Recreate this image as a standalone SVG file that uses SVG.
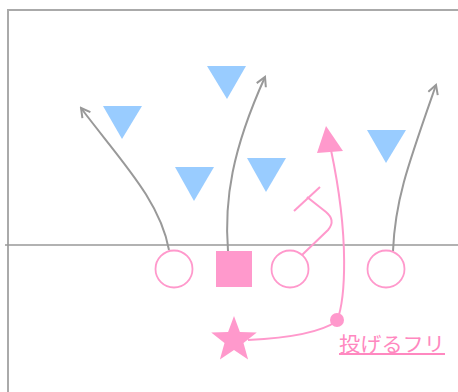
<svg xmlns="http://www.w3.org/2000/svg" width="458" height="392" viewBox="0 0 458 392">
<style>
.frame{stroke:#aaaaaa;stroke-width:2;fill:none}
.los{stroke:#999999;stroke-width:1.5;fill:none}
.def{fill:#99ccff}
.off{fill:#ffffff;stroke:#ff99cc;stroke-width:1.8}
.pk{fill:#ff99cc}
.route{fill:none;stroke:#999999;stroke-width:2}
.proute{fill:none;stroke:#ff99cc;stroke-width:2}
.lbl{font-family:"Noto Sans CJK JP","Noto Sans CJK SC",sans-serif;font-size:20px;fill:#ff88c0;text-decoration:underline}
</style>
<defs>
<marker id="ga" viewBox="0 0 12 12" refX="10" refY="6" markerWidth="12" markerHeight="12" markerUnits="userSpaceOnUse" orient="auto">
<path d="M1,1 L10,6 L1,11" fill="none" stroke="#999999" stroke-width="2"/>
</marker>
</defs>
<rect width="458" height="392" fill="#ffffff"/>
<g id="field">
<path class="frame" d="M8,392 V10 H458"/>
<line class="los" x1="5" y1="245" x2="458" y2="245"/>
</g>
<g id="connectors">
<path class="route" d="M169,250 C160,200 120,160 81,108" marker-end="url(#ga)"/>
<path class="route" d="M228,251 C224,200 232,150 265,77" marker-end="url(#ga)"/>
<path class="route" d="M393,251 C395,200 408,165 436,85" marker-end="url(#ga)"/>
<path class="proute" d="M302,255 L328,230 C334,223 332,217 326,212 L307,197"/>
<line class="proute" x1="294" y1="211" x2="320" y2="187"/>
<path class="proute" d="M248,340 C290,338 320,333 337,321 C345,300 350,240 331,150"/>
<polygon class="pk" points="326,126 317,153 343,151"/>
<circle class="pk" cx="337" cy="320" r="7"/>
</g>
<g id="d1"><polygon class="def" points="103,106 142,106 122,139"/></g>
<g id="d2"><polygon class="def" points="207,66 246,66 227,99"/></g>
<g id="d3"><polygon class="def" points="175,167 214,167 194,201"/></g>
<g id="d4"><polygon class="def" points="247,158 286,158 266,192"/></g>
<g id="d5"><polygon class="def" points="367,130 406,130 386,163"/></g>
<g id="o1"><circle class="off" cx="174" cy="269" r="18.5"/></g>
<g id="center"><rect class="pk" x="216" y="251" width="36" height="36"/></g>
<g id="o2"><circle class="off" cx="290" cy="269" r="18.5"/></g>
<g id="o3"><circle class="off" cx="386" cy="269" r="18.5"/></g>
<g id="qb"><polygon class="pk" points="234,316 239.9,331.9 256.8,332.6 243.5,343.1 248.1,359.4 234,350 219.9,359.4 224.5,343.1 211.2,332.6 228.1,331.9"/></g>
<g id="label"><text class="lbl" x="339" y="352" textLength="106" lengthAdjust="spacingAndGlyphs">投げるフリ</text></g>
</svg>
